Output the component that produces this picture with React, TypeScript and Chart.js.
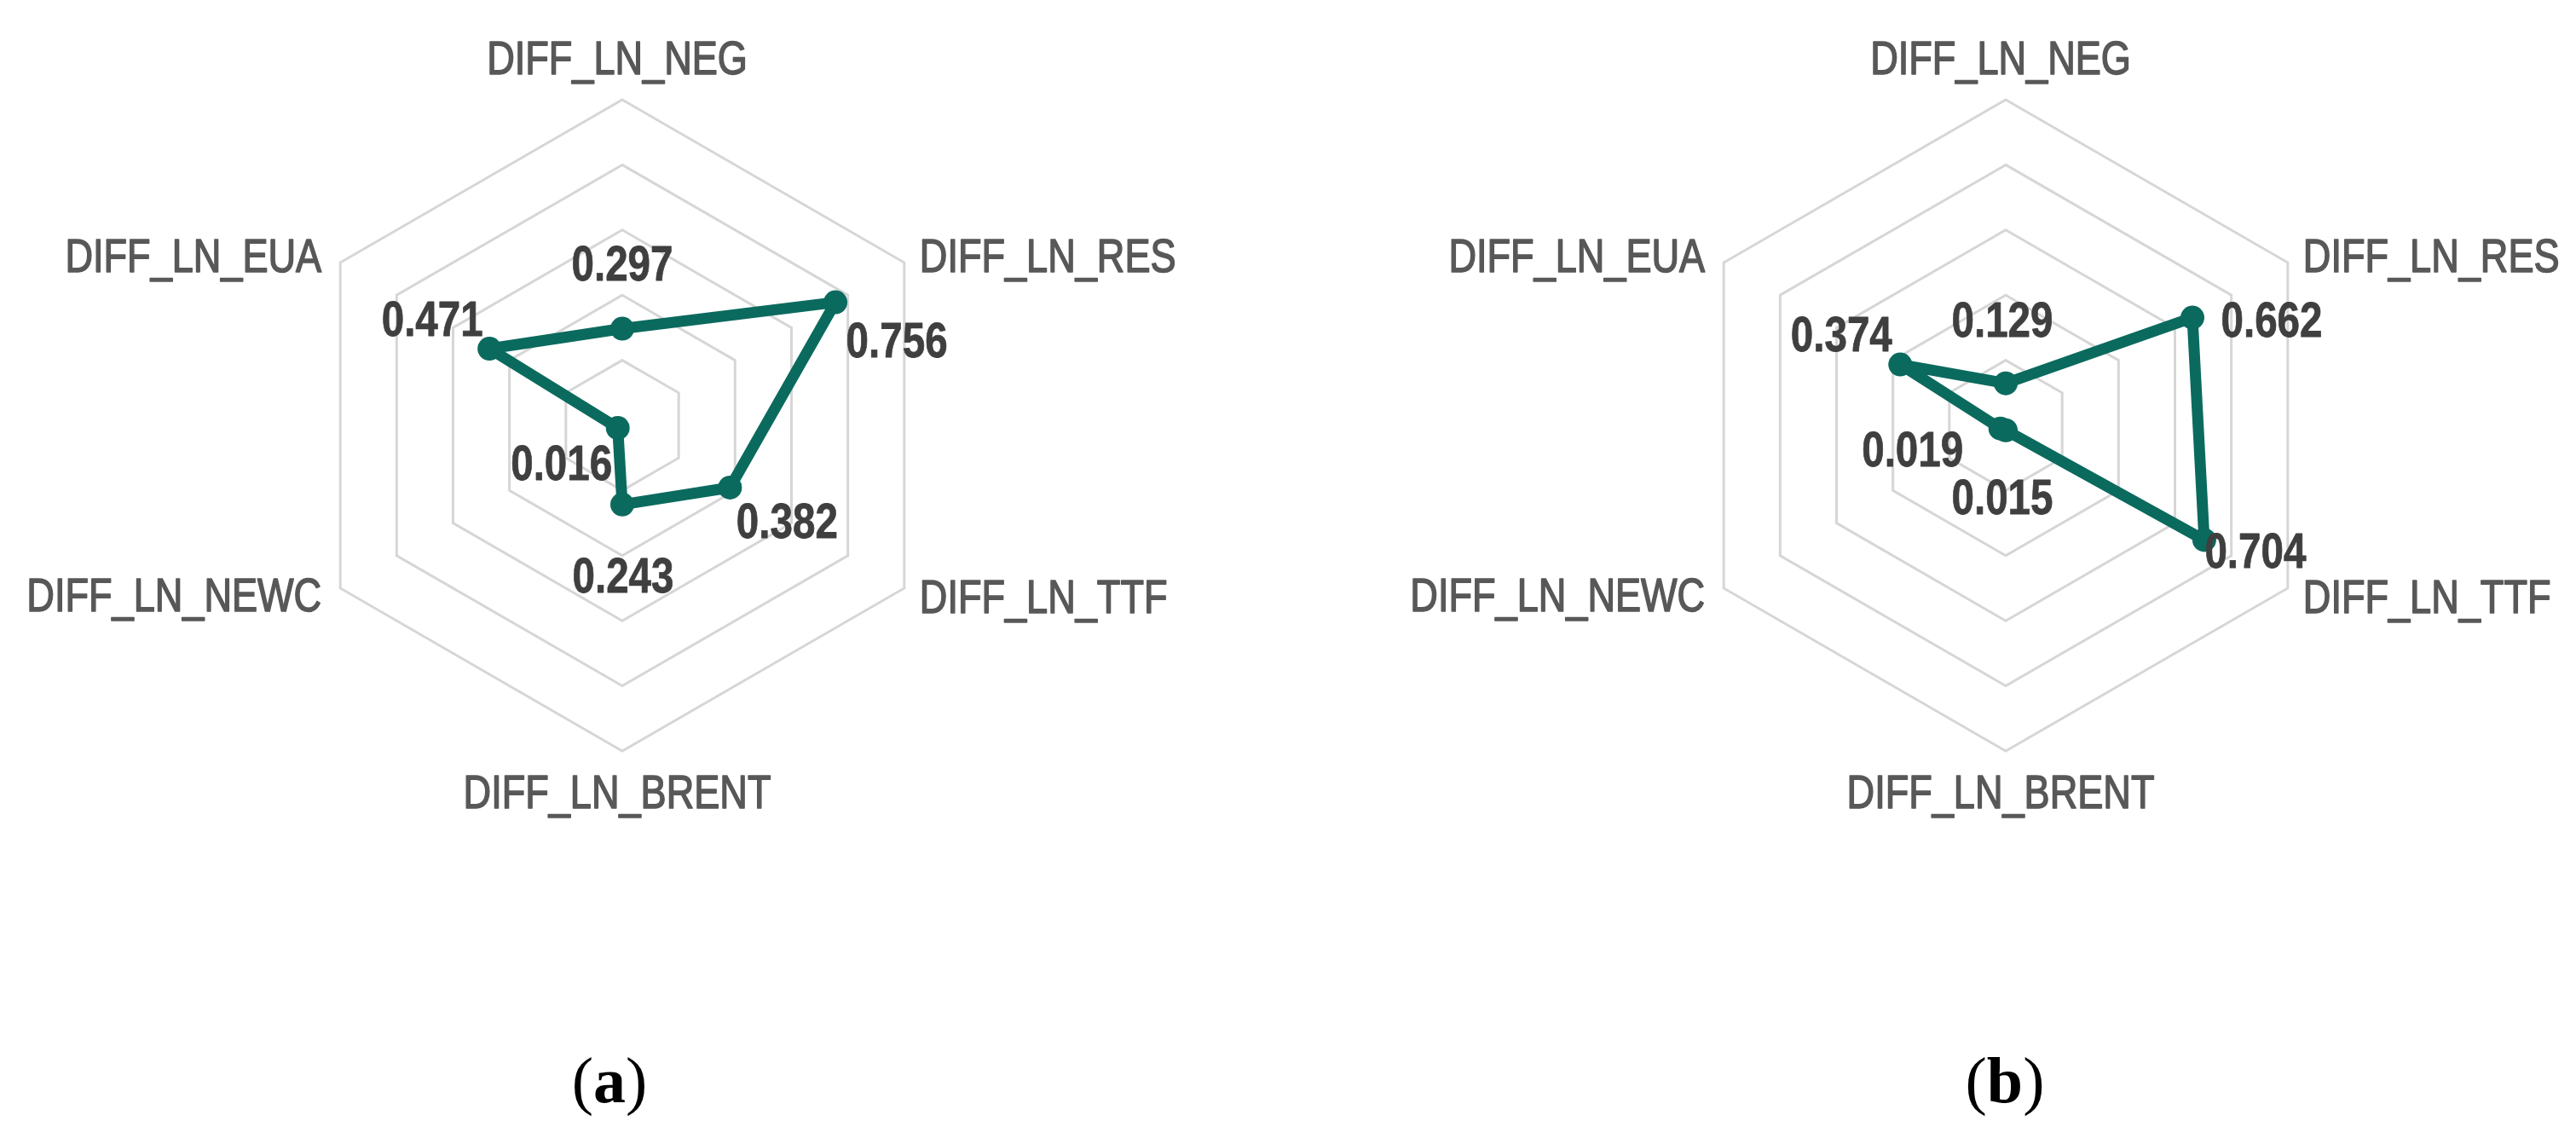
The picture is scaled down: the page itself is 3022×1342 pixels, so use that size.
import React, { useEffect, useRef } from 'react';
import { Chart, registerables } from 'chart.js';

Chart.register(...registerables);

// ---- data ----
const categories = ['DIFF_LN_NEG', 'DIFF_LN_RES', 'DIFF_LN_TTF', 'DIFF_LN_BRENT', 'DIFF_LN_NEWC', 'DIFF_LN_EUA'];
const valuesA = [0.297, 0.756, 0.382, 0.243, 0.016, 0.471];
const valuesB = [0.129, 0.662, 0.704, 0.015, 0.019, 0.374];
const scaleMin = 0;
const scaleMax = 1;
const scaleStep = 0.2;
const panelNames = ['a', 'b'];

// ---- styles / layout ----
const LINE_COLOR = '#0B6A5E';
const GRID_COLOR = '#D6D6D6';
const CAT_COLOR = '#585858';
const VAL_COLOR = '#3F3F3F';
const SANS = '"Liberation Sans", Arial, sans-serif';
const NARROW_SCALE = 0.82;
const RADIUS = 382;

// category label placement relative to the outer vertex (align, dx, baseline dy)
const catPlacement = [
  { align: 'center', dx: -6, dy: -30 },
  { align: 'left', dx: 18, dy: 10.5 },
  { align: 'left', dx: 18, dy: 29 },
  { align: 'center', dx: -6, dy: 67 },
  { align: 'right', dx: -22, dy: 27 },
  { align: 'right', dx: -22, dy: 10.5 },
];

// value label offsets relative to the data point (center x, baseline y)
const valueOffsetsA = [[0, -57], [72, 64], [67, 59.5], [1, 103], [-66, 60.5], [-67, -15.5]];
const valueOffsetsB = [[-4, -55], [93, 22], [60, 33], [-4, 98], [-103, 44], [-69, -16]];

const panels = [
  { values: valuesA, offsets: valueOffsetsA, left: 0, width: 1511, cx: 730, caption: panelNames[0], captionX: 715 },
  { values: valuesB, offsets: valueOffsetsB, left: 1511, width: 1511, cx: 842, caption: panelNames[1], captionX: 2352 },
];
const CANVAS_H = 1000;
const CY = 499;

function narrowText(ctx: CanvasRenderingContext2D, text: string, x: number, y: number, align: string, strokeW: number) {
  ctx.save();
  ctx.translate(x, y);
  ctx.scale(NARROW_SCALE, 1);
  ctx.textAlign = align as CanvasTextAlign;
  ctx.fillText(text, 0, 0);
  if (strokeW > 0) {
    ctx.lineWidth = strokeW;
    ctx.lineJoin = 'round';
    ctx.strokeText(text, 0, 0);
  }
  ctx.restore();
}

const labelPlugin = {
  id: 'radarLabels',
  afterDatasetsDraw(chart: any, _args: any, opts: any) {
    const ctx = chart.ctx as CanvasRenderingContext2D;
    const scale = chart.scales.r;
    ctx.save();
    ctx.font = `55px ${SANS}`;
    ctx.fillStyle = CAT_COLOR;
    ctx.strokeStyle = CAT_COLOR;
    ctx.textBaseline = 'alphabetic';
    (chart.data.labels as string[]).forEach((c, i) => {
      const p = scale.getPointPosition(i, scale.drawingArea);
      const pl = catPlacement[i];
      narrowText(ctx, c, p.x + pl.dx, p.y + pl.dy, pl.align, 1.6);
    });
    const meta = chart.getDatasetMeta(0);
    const data = chart.data.datasets[0].data as number[];
    ctx.font = `bold 58px ${SANS}`;
    ctx.fillStyle = VAL_COLOR;
    ctx.strokeStyle = VAL_COLOR;
    meta.data.forEach((pt: any, i: number) => {
      const [dx, dy] = opts.offsets[i];
      narrowText(ctx, data[i].toFixed(3), pt.x + dx, pt.y + dy, 'center', 0.8);
    });
    ctx.restore();
  },
};

function RadarPanel({ panel }: { panel: any }) {
  const ref = useRef<HTMLCanvasElement>(null);
  useEffect(() => {
    if (!ref.current) return;
    const padLeft = panel.cx - RADIUS;
    const padRight = panel.width - padLeft - 2 * RADIUS;
    const padTop = CY - RADIUS;
    const padBottom = CANVAS_H - padTop - 2 * RADIUS;
    const chart = new Chart(ref.current, {
      type: 'radar',
      data: {
        labels: categories,
        datasets: [
          {
            data: panel.values,
            borderColor: LINE_COLOR,
            backgroundColor: 'rgba(0,0,0,0)',
            fill: false,
            borderWidth: 13,
            borderJoinStyle: 'round',
            pointRadius: 14,
            pointBorderWidth: 0,
            pointBackgroundColor: LINE_COLOR,
            pointBorderColor: LINE_COLOR,
          },
        ],
      },
      options: {
        animation: false,
        responsive: false,
        maintainAspectRatio: false,
        layout: { padding: { left: padLeft, right: padRight, top: padTop, bottom: padBottom } },
        plugins: {
          legend: { display: false },
          tooltip: { enabled: false },
          radarLabels: { offsets: panel.offsets },
        } as any,
        scales: {
          r: {
            min: scaleMin,
            max: scaleMax,
            ticks: { display: false, stepSize: scaleStep },
            grid: { color: GRID_COLOR, lineWidth: 3 },
            angleLines: { display: false },
            pointLabels: { display: false },
          },
        },
        elements: { line: { tension: 0 } },
      },
      plugins: [labelPlugin],
    });
    return () => chart.destroy();
  }, [panel]);
  return (
    <canvas
      ref={ref}
      width={panel.width}
      height={CANVAS_H}
      style={{ position: 'absolute', left: panel.left, top: 0, width: panel.width, height: CANVAS_H }}
    />
  );
}

export default function App() {
  return (
    <div style={{ position: 'fixed', left: 0, top: 0, width: 3022, height: 1342, background: '#fff', overflow: 'hidden' }}>
      {panels.map((p, i) => (
        <RadarPanel key={i} panel={p} />
      ))}
      {panels.map((p, i) => (
        <div
          key={'c' + i}
          style={{
            position: 'absolute',
            left: p.captionX - 100,
            width: 200,
            top: 1229,
            textAlign: 'center',
            fontFamily: '"Liberation Serif", "Times New Roman", serif',
            fontSize: 76,
            lineHeight: '76px',
            color: '#000',
          }}
        >
          (<b>{p.caption}</b>)
        </div>
      ))}
    </div>
  );
}
